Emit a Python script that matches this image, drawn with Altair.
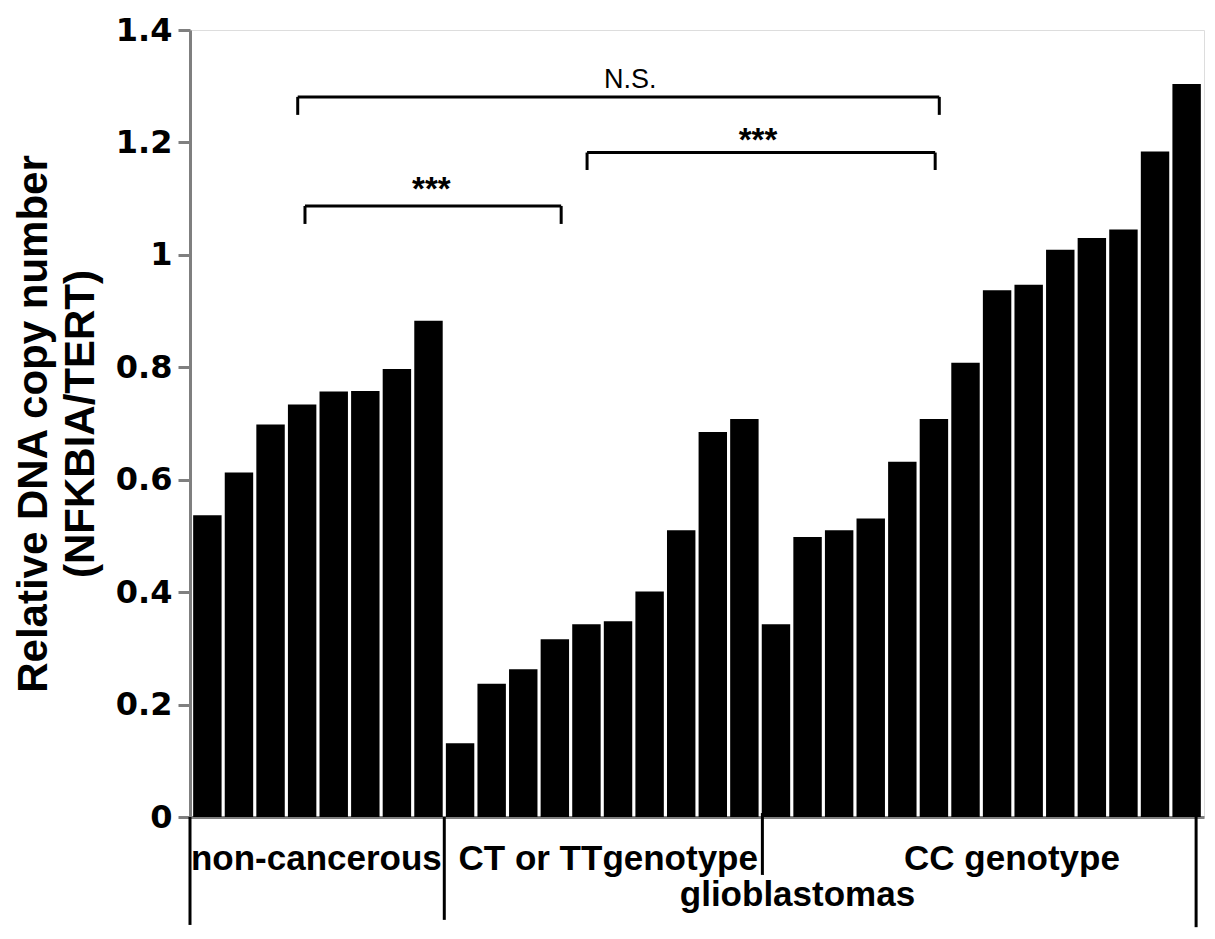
import altair as alt
import pandas as pd

# ---- data ----
non_cancerous = [0.537, 0.613, 0.698, 0.734, 0.757, 0.758, 0.797, 0.883]
ct_tt = [0.131, 0.237, 0.263, 0.316, 0.343, 0.348, 0.401, 0.510, 0.685, 0.708]
cc = [0.343, 0.498, 0.510, 0.531, 0.632, 0.708, 0.808, 0.937, 0.947, 1.009,
      1.030, 1.045, 1.184, 1.304]

y_ticks = [0, 0.2, 0.4, 0.6, 0.8, 1.0, 1.2, 1.4]
y_title = ["Relative DNA copy number", "(NFKBIA/TERT)"]

# significance brackets (x in bar-index units, y in data units)
br_left = [3.36, 12.52, 3.59]
br_right = [23.67, 23.54, 11.70]
br_y = [1.281, 1.182, 1.087]
br_drop = [1.249, 1.151, 1.055]
br_label = ["N.S.", "***", "***"]
br_label_x = [13.89, 17.93, 7.59]
br_label_y = [1.297, 1.184, 1.098]

# group dividers and labels under the axis
div_pos = [-0.05, 8.0, 18.07, 31.80]
div_top = [0.0, 0.0, 0.007, 0.0]
div_bottom = [-0.192, -0.183, -0.103, -0.196]
grp_label = ["non-cancerous", "CT or TTgenotype", "CC genotype", "glioblastomas"]
grp_x = [3.95, 13.19, 25.97, 19.18]
grp_y = [-0.094, -0.094, -0.094, -0.158]

# ---- tables ----
values = non_cancerous + ct_tt + cc
groups = (["non-cancerous"] * len(non_cancerous) + ["CT/TT"] * len(ct_tt)
          + ["CC"] * len(cc))
bars_df = pd.DataFrame({
    "id": [f"b{i:02d}" for i in range(len(values))],
    "value": values,
    "group": groups,
})

seg_rows = []
for l, r, y, d in zip(br_left, br_right, br_y, br_drop):
    seg_rows.append({"u": l, "u2": r, "value": y, "value2": y})
    seg_rows.append({"u": l, "u2": l, "value": y, "value2": d})
    seg_rows.append({"u": r, "u2": r, "value": y, "value2": d})
for p, t, b in zip(div_pos, div_top, div_bottom):
    seg_rows.append({"u": p, "u2": p, "value": t, "value2": b})
seg_df = pd.DataFrame(seg_rows)

ns_df = pd.DataFrame({"u": br_label_x[:1], "value": br_label_y[:1], "label": br_label[:1]})
star_df = pd.DataFrame({"u": br_label_x[1:], "value": br_label_y[1:], "label": br_label[1:]})
grp_df = pd.DataFrame({"u": grp_x, "value": grp_y, "label": grp_label})

# ---- encodings ----
y_scale = alt.Scale(domain=[0, 1.4], nice=False, zero=True)
y_enc = alt.Y(
    "value:Q",
    scale=y_scale,
    axis=alt.Axis(
        values=y_ticks,
        format=".1~f",
        title=y_title,
        grid=False,
        domainColor="#7f7f7f",
        domainWidth=3,
        tickColor="#7f7f7f",
        tickWidth=3,
        tickSize=12,
        labelFont="DejaVu Sans",
        labelFontWeight="bold",
        labelFontSize=32,
        labelColor="black",
        labelPadding=6,
        titleFont="Liberation Sans",
        titleFontWeight="bold",
        titleFontSize=42,
        titleLineHeight=47,
        titlePadding=13,
        titleColor="black",
    ),
)

x_band = alt.X(
    "id:N",
    sort=None,
    scale=alt.Scale(paddingInner=0.1, paddingOuter=0.1),
    axis=alt.Axis(labels=False, ticks=False, title=None, grid=False,
                  domainColor="#7f7f7f", domainWidth=3),
)

x_lin = alt.X("u:Q", scale=alt.Scale(domain=[-0.05, 32.05], nice=False, zero=False), axis=None)

bars = alt.Chart(bars_df).mark_bar(color="black").encode(x=x_band, y=y_enc)

rules = alt.Chart(seg_df).mark_rule(color="black", strokeWidth=3).encode(
    x=x_lin, x2="u2:Q", y=alt.Y("value:Q", scale=y_scale), y2="value2:Q"
)

ns_text = alt.Chart(ns_df).mark_text(
    font="Liberation Sans", fontSize=27, color="black", baseline="alphabetic", align="center"
).encode(x=x_lin, y=alt.Y("value:Q", scale=y_scale), text="label:N")

star_text = alt.Chart(star_df).mark_text(
    font="Liberation Sans", fontSize=33, fontWeight="bold", color="black",
    baseline="alphabetic", align="center"
).encode(x=x_lin, y=alt.Y("value:Q", scale=y_scale), text="label:N")

grp_text = alt.Chart(grp_df).mark_text(
    font="Liberation Sans", fontSize=35, fontWeight="bold", color="black",
    baseline="alphabetic", align="center"
).encode(x=x_lin, y=alt.Y("value:Q", scale=y_scale), text="label:N")

chart = (
    alt.layer(bars, rules, ns_text, star_text, grp_text)
    .resolve_scale(x="independent")
    .properties(
        width=1014,
        height=787,
        autosize=alt.AutoSizeParams(type="none"),
        padding={"left": 182, "top": 22, "right": 3, "bottom": 120},
    )
    .configure_view(stroke=None)
    .configure(background="white")
)

chart.save("out.html", embed_options={"renderer": "svg", "actions": False})
